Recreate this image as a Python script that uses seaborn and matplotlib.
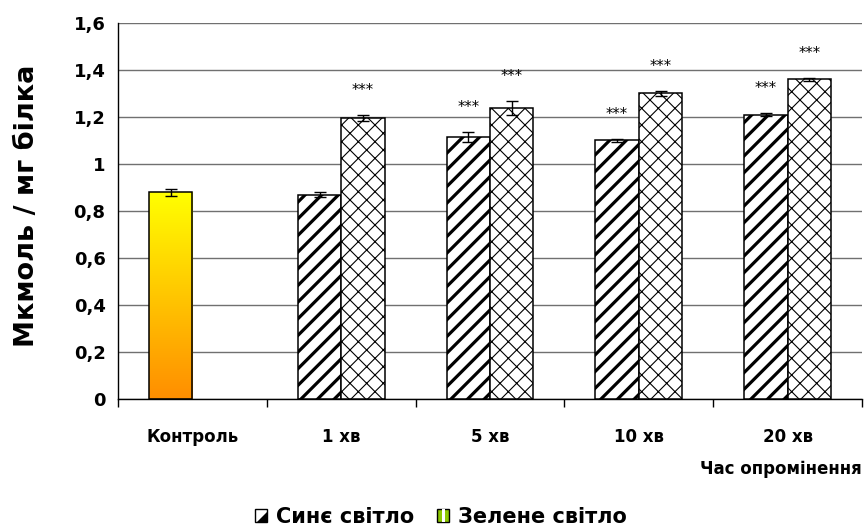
import numpy as np
import pandas as pd
import matplotlib
matplotlib.use("Agg")
import matplotlib.pyplot as plt
import seaborn as sns
from matplotlib.patches import Patch, Rectangle, Polygon
from matplotlib.legend_handler import HandlerPatch, HandlerTuple
from matplotlib.colors import LinearSegmentedColormap

# --- data -------------------------------------------------------------
categories = ["Контроль", "1 хв", "5 хв", "10 хв", "20 хв"]
series = ["Синє світло", "Зелене світло"]
blue_values = [0.88, 0.87, 1.115, 1.10, 1.21]
blue_errors = [0.015, 0.010, 0.020, 0.007, 0.005]
green_values = [np.nan, 1.195, 1.24, 1.30, 1.36]
green_errors = [np.nan, 0.012, 0.030, 0.010, 0.005]
blue_stars = ["", "", "***", "***", "***"]
green_stars = ["", "***", "***", "***", "***"]
y_ticks = [0, 0.2, 0.4, 0.6, 0.8, 1.0, 1.2, 1.4, 1.6]
y_tick_labels = ["0", "0,2", "0,4", "0,6", "0,8", "1", "1,2", "1,4", "1,6"]

df = pd.DataFrame({
    "category": categories * 2,
    "series": [series[0]] * len(categories) + [series[1]] * len(categories),
    "value": blue_values + green_values,
    "error": blue_errors + green_errors,
    "stars": blue_stars + green_stars,
})

# --- figure -----------------------------------------------------------
sns.set_theme(style="white")
plt.rcParams["font.family"] = ["DejaVu Sans"]
plt.rcParams["text.color"] = "black"
plt.rcParams["axes.labelcolor"] = "black"
plt.rcParams["xtick.color"] = "black"
plt.rcParams["ytick.color"] = "black"
plt.rcParams["hatch.linewidth"] = 2.0

fig = plt.figure(figsize=(8.66, 5.32), dpi=100)
ax = fig.add_axes([0.1363, 0.25, 0.8591, 0.7068])

sns.barplot(data=df, x="category", y="value", hue="series",
            order=categories, hue_order=series,
            palette=["white", "white"], width=0.584,
            edgecolor="black", linewidth=1.1, errorbar=None,
            legend=False, ax=ax, zorder=3)

hatches = ["//", "xx"]
hatch_lw = [2.3, 0.8]
for level, container, hatch, hlw in zip(series, ax.containers, hatches, hatch_lw):
    rows = df[(df["series"] == level) & df["value"].notna()]
    for bar, (_, row) in zip(container, rows.iterrows()):
        bar.set_hatch(hatch)
        if hasattr(bar, "set_hatch_linewidth"):
            bar.set_hatch_linewidth(hlw)
        bar.set_zorder(3)
        cx = bar.get_x() + bar.get_width() / 2
        h = bar.get_height()
        ax.errorbar(cx, h, yerr=row["error"], fmt="none", ecolor="black",
                    elinewidth=1.0, capsize=4, capthick=1.0, zorder=4)
        if row["stars"]:
            ax.text(cx, h + row["error"] + 0.085, row["stars"], ha="center",
                    va="baseline", fontsize=10.5, color="black", zorder=5)

# control bar: vertical yellow -> orange gradient fill
ctrl = ax.containers[0][0]
ctrl.set_hatch(None)
x0, w, h = ctrl.get_x(), ctrl.get_width(), ctrl.get_height()
grad_cmap = LinearSegmentedColormap.from_list("ctrl", ["#FF8E00", "#FFFF00"])
grad = np.linspace(0, 1, 256).reshape(-1, 1)
img = ax.imshow(grad, extent=[x0, x0 + w, 0, h], origin="lower",
                aspect="auto", cmap=grad_cmap, zorder=2.5)
img.set_clip_path(ctrl)
ctrl.set_facecolor("none")

# --- axes styling -----------------------------------------------------
ax.set_xlim(-0.5, len(categories) - 0.5)
ax.set_ylim(0, 1.6)
ax.set_yticks(y_ticks)
ax.set_yticklabels(y_tick_labels)
ax.yaxis.grid(True, color="#707070", linewidth=1.0, zorder=0)
ax.set_axisbelow(True)
for side in ["top", "right"]:
    ax.spines[side].set_visible(False)
for side in ["left", "bottom"]:
    ax.spines[side].set_color("black")
    ax.spines[side].set_linewidth(1.0)

ax.tick_params(axis="y", which="major", direction="out", length=6, width=1,
               color="black", pad=3, labelsize=13)
for lab in ax.get_yticklabels():
    lab.set_fontweight("bold")

ax.set_xticks(range(len(categories)))
ax.set_xticklabels(categories, fontsize=12, fontweight="bold")
ax.set_xticks(np.arange(-0.5, len(categories)), minor=True)
ax.tick_params(axis="x", which="major", length=0, pad=21)
ax.tick_params(axis="x", which="minor", direction="out", length=6, width=1,
               color="black", bottom=True)

ax.set_xlabel("Час опромінення", loc="right", fontsize=12,
              fontweight="bold", labelpad=10)
ax.set_ylabel("Мкмоль / мг білка", fontsize=19.5, fontweight="bold")
ax.yaxis.set_label_coords(-0.105, 0.513)

# --- legend -----------------------------------------------------------
def stripe(legend, orig_handle, xdescent, ydescent, width, height, fontsize):
    return Rectangle((-xdescent + width * 0.38, -ydescent), width * 0.24, height)


def wedge(legend, orig_handle, xdescent, ydescent, width, height, fontsize):
    x, y = -xdescent, -ydescent
    return Polygon([(x + width * 0.2, y), (x + width, y),
                    (x + width, y + height * 0.8)], closed=True)

blue_frame = Patch(facecolor="white", edgecolor="black", linewidth=1.0)
blue_band = Patch(facecolor="black", edgecolor="none")
green_base = Patch(facecolor="#8CC800", edgecolor="black", linewidth=1.0)
green_stripe = Patch(facecolor="white", edgecolor="none")

fig.legend([(blue_frame, blue_band), (green_base, green_stripe)], series,
           handler_map={tuple: HandlerTuple(ndivide=1, pad=0),
                        green_stripe: HandlerPatch(patch_func=stripe),
                        blue_band: HandlerPatch(patch_func=wedge)},
           loc="center", bbox_to_anchor=(0.509, 0.028), ncol=2,
           frameon=False, handlelength=0.6, handleheight=0.6,
           handletextpad=0.4, columnspacing=1.1,
           prop={"size": 15, "weight": "bold"})

fig.savefig("out.png", dpi=100)
